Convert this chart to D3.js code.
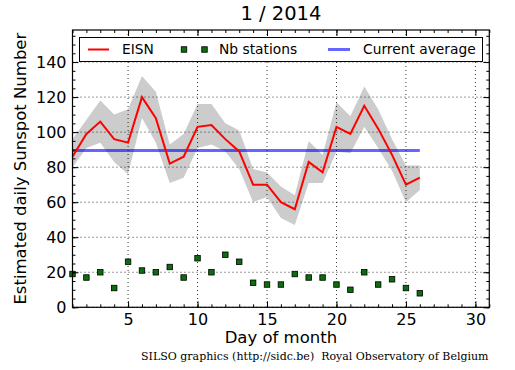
<!DOCTYPE html>
<html><head><meta charset="utf-8">
<script src="https://cdn.jsdelivr.net/npm/d3@7"></script>
<style>
html,body{margin:0;padding:0;background:#fff;}
svg{display:block;font-family:"DejaVu Sans",sans-serif;}
</style></head><body>
<svg id="chart" width="515" height="370"></svg>
<script>
const days = [1,2,3,4,5,6,7,8,9,10,11,12,13,14,15,16,17,18,19,20,21,22,23,24,25,26];
const eisn = [86,99,106,96,94,120,108,82,86,103,104,96,89,70,70,60,56,83,77,103,99,115,102,87,70,74];
const upper = [96,107,118,110,113,132,123,93,99,116,116,105,101,79,77,69,64,95,87,117,109,126,113,96,81,81];
const lower = [80,91,94,83,76,108,94,71,74,91,93,89,79,60,63,51,47,71,71,89,88,103,91,78,60,67];
const stations = [19,17,20,11,26,21,20,23,17,28,20,30,26,14,13,13,19,17,17,13,10,20,13,16,11,8];
const currentAverage = 89.5;
const xTicks = [5,10,15,20,25,30];
const yTicks = [0,20,40,60,80,100,120,140];
const title = "1 / 2014";
const xLabel = "Day of month";
const yLabel = "Estimated daily Sunspot Number";
const footer = "SILSO graphics (http://sidc.be)  Royal Observatory of Belgium";
const legendLabels = ["EISN","Nb stations","Current average"];

const svg = d3.select("#chart");
const L = 72.5, R = 489.3, T = 30, B = 307.3;
const x = d3.scaleLinear().domain([1,31]).range([L,R]);
const y = d3.scaleLinear().domain([0,158.3]).range([B,T]);

const rows = days.map((d,i)=>({d, e:eisn[i], u:upper[i], l:lower[i], s:stations[i]}));

// band
svg.append("path").datum(rows)
  .attr("fill","#cccccc").attr("stroke","none")
  .attr("d", d3.area().x(r=>x(r.d)).y0(r=>y(r.l)).y1(r=>y(r.u)));

// grid
const grid = svg.append("g").attr("stroke","#000").attr("stroke-width",0.8).attr("stroke-dasharray","1,3");
grid.selectAll("line.v").data(xTicks).join("line")
  .attr("x1",d=>x(d)).attr("x2",d=>x(d)).attr("y1",T).attr("y2",B);
grid.selectAll("line.h").data(yTicks).join("line")
  .attr("y1",d=>y(d)).attr("y2",d=>y(d)).attr("x1",L).attr("x2",R);

// current average
svg.append("line")
  .attr("x1",x(days[0])).attr("x2",x(days[days.length-1]))
  .attr("y1",y(currentAverage)).attr("y2",y(currentAverage))
  .attr("stroke","#0000ff").attr("stroke-opacity",0.6).attr("stroke-width",3);

// EISN line
svg.append("path").datum(rows)
  .attr("fill","none").attr("stroke","#ff0000").attr("stroke-width",2)
  .attr("d", d3.line().x(r=>x(r.d)).y(r=>y(r.e)));

// stations markers
const ms = 5.5;
svg.append("g").selectAll("rect").data(rows).join("rect")
  .attr("x",r=>x(r.d)-ms/2).attr("y",r=>y(r.s)-ms/2)
  .attr("width",ms).attr("height",ms)
  .attr("fill","#0a6e0a").attr("stroke","#000").attr("stroke-width",0.8);

// frame
svg.append("rect").attr("x",L).attr("y",T).attr("width",R-L).attr("height",B-T)
  .attr("fill","none").attr("stroke","#000").attr("stroke-width",1.2);

// axes
const fs = 16;
function styleAxis(g){ g.select(".domain").remove(); g.selectAll("line").attr("stroke","#000"); g.selectAll("text").attr("font-size",fs).attr("font-family","DejaVu Sans").attr("fill","#000"); }
const minorX = d3.range(1,32);
const minorY = d3.range(0,159,5);
svg.append("g").attr("transform",`translate(0,${B})`)
  .call(d3.axisBottom(x).tickValues(minorX).tickSize(-3).tickFormat("")).call(styleAxis);
svg.append("g").attr("transform",`translate(0,${T})`)
  .call(d3.axisTop(x).tickValues(minorX).tickSize(-3).tickFormat("")).call(styleAxis);
svg.append("g").attr("transform",`translate(${L},0)`)
  .call(d3.axisLeft(y).tickValues(minorY).tickSize(-3).tickFormat("")).call(styleAxis);
svg.append("g").attr("transform",`translate(${R},0)`)
  .call(d3.axisRight(y).tickValues(minorY).tickSize(-3).tickFormat("")).call(styleAxis);
svg.append("g").attr("transform",`translate(0,${B})`)
  .call(d3.axisBottom(x).tickValues(xTicks).tickSize(-6).tickPadding(6).tickFormat(d3.format("d"))).call(styleAxis);
svg.append("g").attr("transform",`translate(0,${T})`)
  .call(d3.axisTop(x).tickValues(xTicks).tickSize(-6).tickFormat("")).call(styleAxis);
svg.append("g").attr("transform",`translate(${L},0)`)
  .call(d3.axisLeft(y).tickValues(yTicks).tickSize(-6).tickPadding(6).tickFormat(d3.format("d"))).call(styleAxis);
svg.append("g").attr("transform",`translate(${R},0)`)
  .call(d3.axisRight(y).tickValues(yTicks).tickSize(-6).tickFormat("")).call(styleAxis);

// legend
const lg = svg.append("g");
lg.append("rect").attr("x",79.5).attr("y",37.5).attr("width",403).attr("height",24)
  .attr("fill","#fff").attr("stroke","#000").attr("stroke-width",1);
const ly = 49.5, lfs = 13.8;
lg.append("line").attr("x1",88).attr("x2",109).attr("y1",ly).attr("y2",ly).attr("stroke","#ff0000").attr("stroke-width",2);
lg.append("text").attr("x",122).attr("y",ly).attr("dy","0.36em").attr("font-size",lfs).text(legendLabels[0]);
[184,204.5].forEach(cx=>lg.append("rect").attr("x",cx-ms/2).attr("y",ly-ms/2).attr("width",ms).attr("height",ms)
  .attr("fill","#0a6e0a").attr("stroke","#000").attr("stroke-width",0.8));
lg.append("text").attr("x",219).attr("y",ly).attr("dy","0.36em").attr("font-size",lfs).text(legendLabels[1]);
lg.append("line").attr("x1",328).attr("x2",350).attr("y1",ly).attr("y2",ly).attr("stroke","#0000ff").attr("stroke-opacity",0.6).attr("stroke-width",3);
lg.append("text").attr("x",363).attr("y",ly).attr("dy","0.36em").attr("font-size",lfs).text(legendLabels[2]);

// titles
svg.append("text").attr("x",(L+R)/2).attr("y",20).attr("text-anchor","middle").attr("font-size",19.5).text(title);
svg.append("text").attr("x",(L+R)/2).attr("y",343).attr("text-anchor","middle").attr("font-size",16.5).text(xLabel);
svg.append("text").attr("transform",`translate(26,${(T+B)/2}) rotate(-90)`).attr("text-anchor","middle").attr("font-size",16.5).text(yLabel);
svg.append("text").attr("x",488.5).attr("y",360).attr("text-anchor","end").attr("font-size",11)
  .attr("font-family","DejaVu Serif").style("white-space","pre").text(footer);
</script>
</body></html>
